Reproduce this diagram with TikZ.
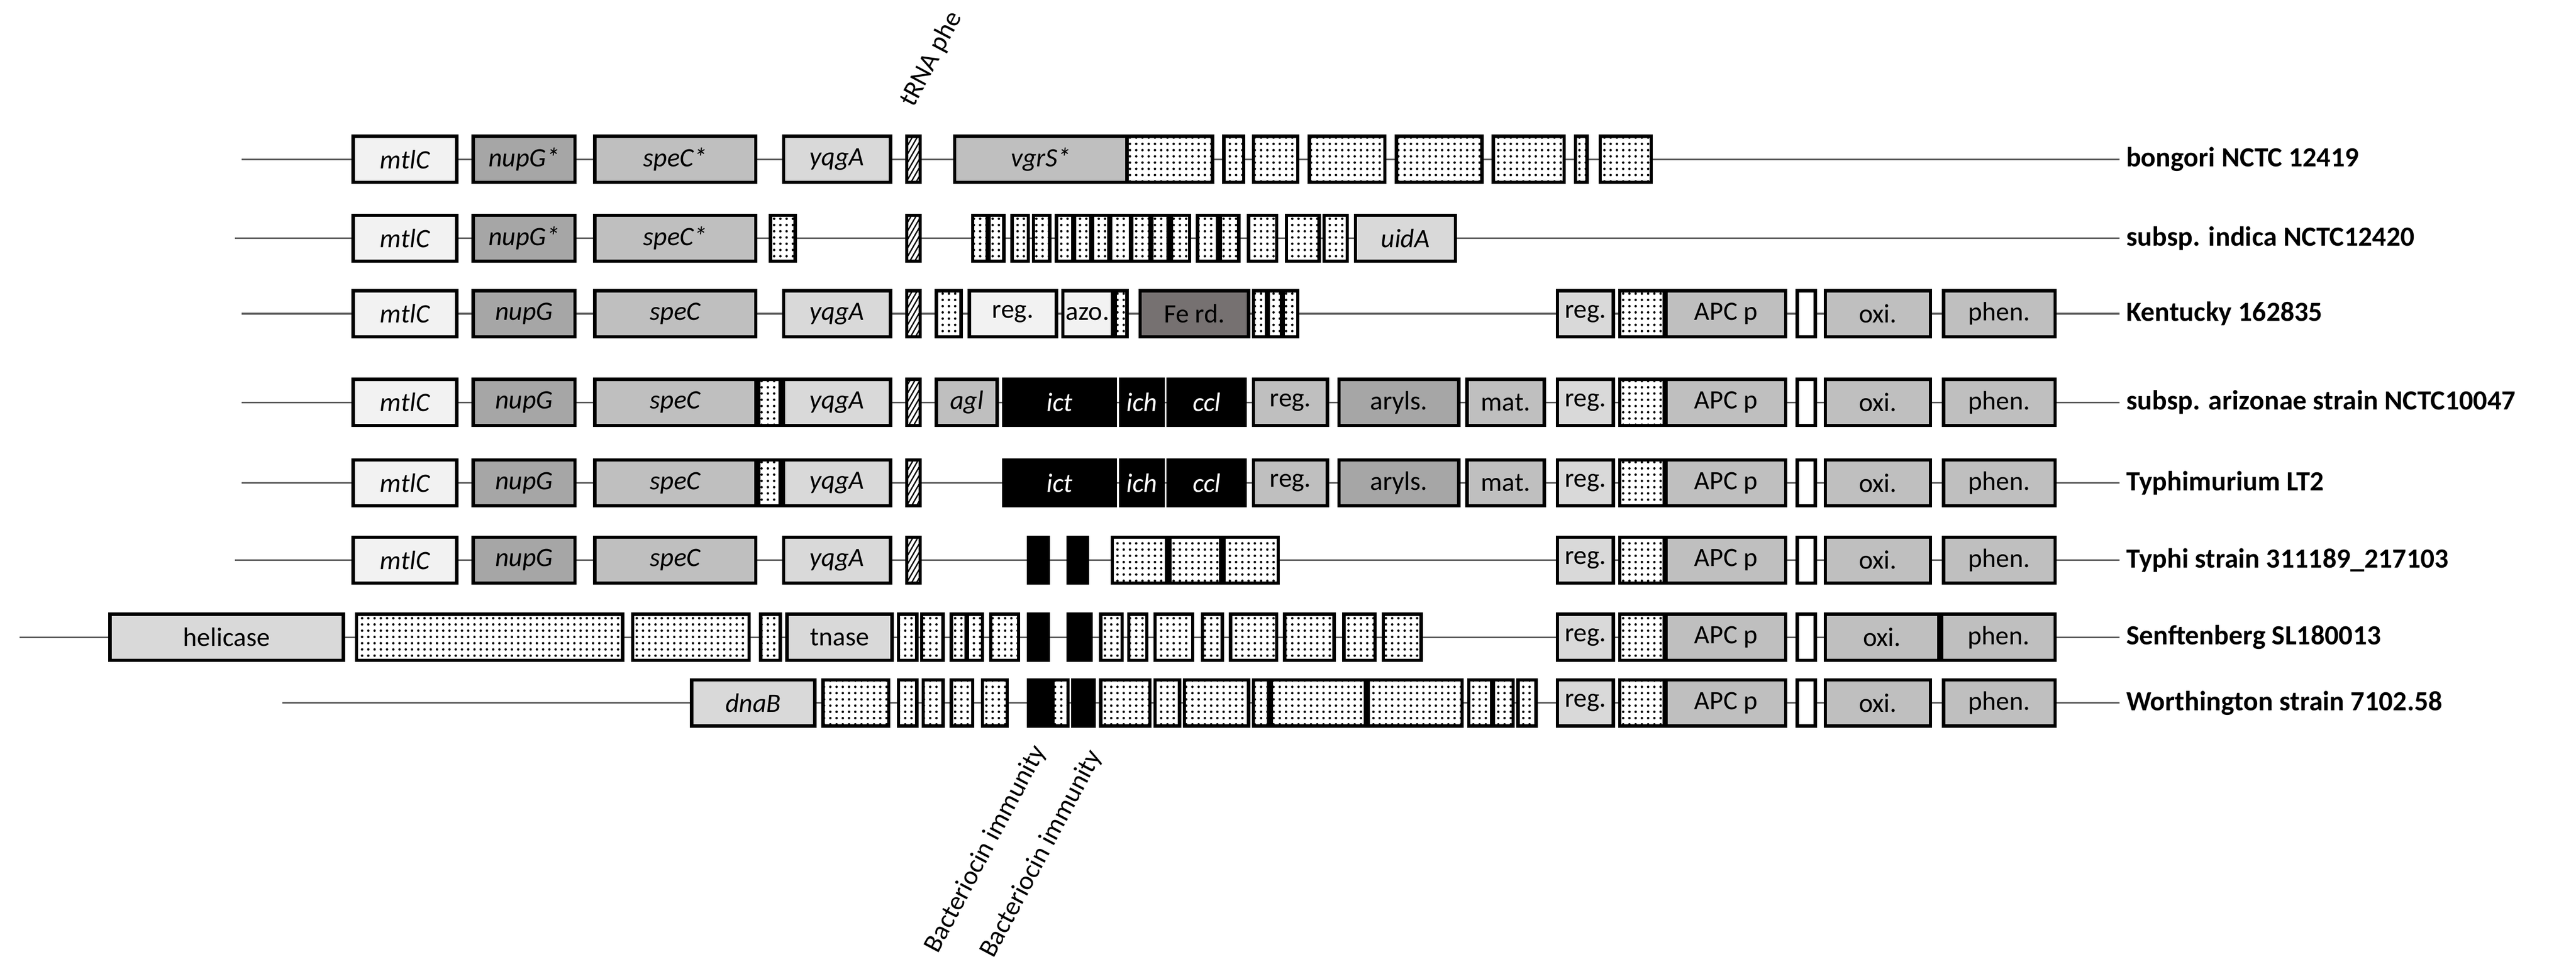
\documentclass[tikz,border=0pt]{standalone}
\usepackage{fontspec}
\setmainfont{Carlito}
\usetikzlibrary{patterns.meta}
\definecolor{c1}{HTML}{F2F2F2}
\definecolor{c2}{HTML}{A6A6A6}
\definecolor{c3}{HTML}{BFBFBF}
\definecolor{c4}{HTML}{D9D9D9}
\definecolor{c5}{HTML}{767171}
\newcounter{gc}
\newcommand\gn[5]{\stepcounter{gc}\node[gbox,#4,minimum width={(#2-#1)*1mm}] (g\arabic{gc}) at ({(#1+#2)/2},#3) {#5};}
\newcommand\dt[3]{\gn{#1}{#2}{#3}{dotbox}{}}
\newcommand\rightblock[1]{%
 \gn{948}{982}{#1}{fill=c4}{reg.}\dt{986}{1013}{#1}\gn{1014}{1087}{#1}{fill=c3}{APC p}%
 \gn{1094}{1105}{#1}{fill=white}{}\gn{1111}{1175}{#1}{fill=c3}{oxi.}\gn{1183}{1251}{#1}{fill=c3}{phen.}}
\newcommand\leftblock[2]{%
 \gn{215}{278}{#1}{fill=c1,it}{mtlC}\gn{288}{350}{#1}{fill=c2,it}{nupG#2}\gn{362}{460}{#1}{fill=c3,it}{speC#2}}
\begin{document}
\begin{tikzpicture}[x=1mm,y=-1mm,
  font=\fontsize{46}{50}\selectfont,
  gbox/.style={draw=black,line width=2mm,minimum height=28mm,inner sep=0pt,outer sep=0pt},
  it/.style={font=\fontsize{46}{50}\selectfont\itshape},
  dotbox/.style={fill=white,postaction={pattern={Dots[radius=0.75mm,distance=3.8mm]},pattern color=black}},
  hatch/.style={fill=white,postaction={pattern={Lines[angle=60,distance=2.6mm,line width=0.8mm]},pattern color=black}},
  blk/.style={fill=black,text=white,font=\fontsize{46}{50}\selectfont\itshape},
  bb/.style={line width=1mm,draw=black!65},
  sp/.style={anchor=west,font=\fontsize{48}{52}\selectfont\bfseries},
  rot/.style={rotate=62,font=\fontsize{46}{50}\selectfont}]
\useasboundingbox (0,0) rectangle (1568,593);
% backbones
\coordinate (a1) at (147,97); \coordinate (b1) at (1290,97);
\coordinate (a2) at (143,145); \coordinate (b2) at (1290,145);
\coordinate (a3) at (147,191); \coordinate (b3) at (1290,191);
\coordinate (a4) at (147,245); \coordinate (b4) at (1290,245);
\coordinate (a5) at (147,294); \coordinate (b5) at (1290,294);
\coordinate (a6) at (143,341); \coordinate (b6) at (1290,341);
\coordinate (a7) at (12,388); \coordinate (b7) at (1290,388);
\coordinate (a8) at (172,428); \coordinate (b8) at (1290,428);
\foreach \i in {1,...,8} \draw[bb] (a\i) -- (b\i);
% row 1
\leftblock{97}{*}
\gn{477}{542}{97}{fill=c4,it}{yqgA}\gn{552}{560}{97}{hatch}{}
\gn{581}{686}{97}{fill=c3,it}{vgrS*}
\dt{686}{738}{97}\dt{745}{757}{97}\dt{763}{790}{97}\dt{797}{843}{97}\dt{850}{902}{97}\dt{909}{952}{97}\dt{959}{966}{97}\dt{974}{1005}{97}
\node[sp] (s1) at (b1) {\hspace{3mm}bongori NCTC 12419};
% row 2
\leftblock{145}{*}
\dt{469}{484}{145}\gn{552}{560}{145}{hatch}{}
\foreach \p/\q in {592/601,602/611,616/626,629/639,643/653,654/664,665/675,676/688,689/700,701/711,713/724,729/741,743/754,760/777,783/803,806/820} {\dt{\p}{\q}{145}}
\gn{825}{886}{145}{fill=c4,it}{uidA}
\node[sp] (s2) at (b2) {\hspace{3mm}subsp. indica NCTC12420};
% row 3
\leftblock{191}{}
\gn{477}{542}{191}{fill=c4,it}{yqgA}\gn{552}{560}{191}{hatch}{}
\dt{570}{585}{191}\gn{590}{643}{191}{fill=c1}{reg.}\gn{647}{677}{191}{fill=c1}{azo.}\dt{679}{686}{191}
\gn{694}{760}{191}{fill=c5}{Fe rd.}\dt{763}{771}{191}\dt{772}{780}{191}\dt{781}{790}{191}
\rightblock{191}
\node[sp] (s3) at (b3) {\hspace{3mm}Kentucky 162835};
% row 4
\leftblock{245}{}\dt{462}{475}{245}
\gn{477}{542}{245}{fill=c4,it}{yqgA}\gn{552}{560}{245}{hatch}{}
\gn{570}{607}{245}{fill=c3,it}{agl}\gn{611}{679}{245}{blk}{ict}\gn{682}{708}{245}{blk}{ich}\gn{711}{758}{245}{blk}{ccl}
\gn{763}{808}{245}{fill=c3}{reg.}\gn{815}{888}{245}{fill=c2}{aryls.}\gn{893}{940}{245}{fill=c3}{mat.}
\rightblock{245}
\node[sp] (s4) at (b4) {\hspace{3mm}subsp. arizonae strain NCTC10047};
% row 5
\leftblock{294}{}\dt{462}{475}{294}
\gn{477}{542}{294}{fill=c4,it}{yqgA}\gn{552}{560}{294}{hatch}{}
\gn{611}{679}{294}{blk}{ict}\gn{682}{708}{294}{blk}{ich}\gn{711}{758}{294}{blk}{ccl}
\gn{763}{808}{294}{fill=c3}{reg.}\gn{815}{888}{294}{fill=c2}{aryls.}\gn{893}{940}{294}{fill=c3}{mat.}
\rightblock{294}
\node[sp] (s5) at (b5) {\hspace{3mm}Typhimurium LT2};
% row 6
\leftblock{341}{}
\gn{477}{542}{341}{fill=c4,it}{yqgA}\gn{552}{560}{341}{hatch}{}
\gn{626}{638}{341}{fill=black}{}\gn{650}{662}{341}{fill=black}{}
\dt{677}{710}{341}\dt{712}{743}{341}\dt{745}{778}{341}
\rightblock{341}
\node[sp] (s6) at (b6) {\hspace{3mm}Typhi strain 311189\_217103};
% row 7
\gn{67}{209}{388}{fill=c4}{helicase}\dt{217}{379}{388}\dt{385}{456}{388}\dt{463}{475}{388}
\gn{479}{543}{388}{fill=c4}{tnase}
\foreach \p/\q in {547/558,561/574,579/588,589/598,603/620,670/683,687/698,703/726,732/744,749/777,782/812,818/837,842/865} {\dt{\p}{\q}{388}}
\gn{626}{638}{388}{fill=black}{}\gn{650}{664}{388}{fill=black}{}
\gn{948}{982}{388}{fill=c4}{reg.}\dt{986}{1013}{388}\gn{1014}{1087}{388}{fill=c3}{APC p}
\gn{1094}{1105}{388}{fill=white}{}\gn{1111}{1180}{388}{fill=c3}{oxi.}\gn{1182}{1251}{388}{fill=c3}{phen.}
\node[sp] (s7) at (b7) {\hspace{3mm}Senftenberg SL180013};
% row 8
\gn{421}{496}{428}{fill=c4,it}{dnaB}
\foreach \p/\q in {501/541,547/558,562/574,579/592,598/613,641/650,670/700,703/718,721/760,763/772,774/831,833/890,894/908,909/921,924/935} {\dt{\p}{\q}{428}}
\gn{626}{640}{428}{fill=black}{}\gn{653}{666}{428}{fill=black}{}
\rightblock{428}
\node[sp] (s8) at (b8) {\hspace{3mm}Worthington strain 7102.58};
% rotated labels
\node[rot] (trna) at (567,36) {tRNA phe};
\node[rot] (bi1) at (600,517) {Bacteriocin immunity};
\node[rot] (bi2) at (634,520) {Bacteriocin immunity};
\end{tikzpicture}
\end{document}
